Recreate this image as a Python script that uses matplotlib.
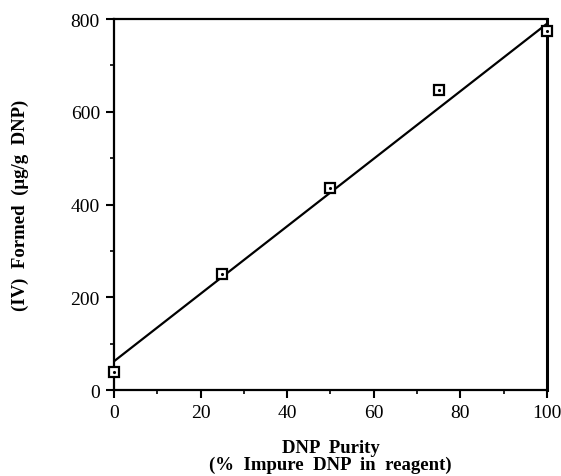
import matplotlib
matplotlib.use("Agg")
import matplotlib.pyplot as plt
from matplotlib.ticker import MultipleLocator

# data
purity = [0, 25, 50, 75, 100]
formed = [40, 250, 435, 648, 775]
fit_x = [0, 100]
fit_y = [62, 790]

xticks = [0, 20, 40, 60, 80, 100]
yticks = [0, 200, 400, 600, 800]

plt.rcParams['font.family'] = ['Liberation Serif', 'DejaVu Serif']


def main():
    fig = plt.figure(figsize=(5.61, 4.77), dpi=100)
    ax = fig.add_axes([0.203, 0.18, 0.772, 0.778])

    ax.plot(fit_x, fit_y, color='black', lw=1.6, zorder=2)
    ax.plot(purity, formed, 's', ms=6.5, mfc='white', mec='black', mew=1.6, zorder=3,
            clip_on=False)
    ax.plot(purity, formed, '.', ms=2.5, color='black', zorder=4, clip_on=False)

    ax.set_xlim(0, 100)
    ax.set_ylim(0, 800)
    ax.set_xticks(xticks)
    ax.set_yticks(yticks)
    ax.xaxis.set_minor_locator(MultipleLocator(10))
    ax.yaxis.set_minor_locator(MultipleLocator(100))
    ax.tick_params(which='major', direction='out', length=6, width=1.5, labelsize=14, pad=4)
    ax.tick_params(which='minor', direction='out', length=3, width=1.2)
    for s in ax.spines.values():
        s.set_linewidth(1.6)
    ax.spines['right'].set_linewidth(2.2)

    ax.set_xlabel('DNP  Purity\n(%  Impure  DNP  in  reagent)', fontsize=13.5,
                  fontweight='bold', labelpad=13, linespacing=1.0)
    ax.set_ylabel('(IV)  Formed  (\u03bcg/g  DNP)', fontsize=13.5, fontweight='bold',
                  labelpad=30)

    fig.savefig('out.png', dpi=100)


if __name__ == "__main__":
    main()
